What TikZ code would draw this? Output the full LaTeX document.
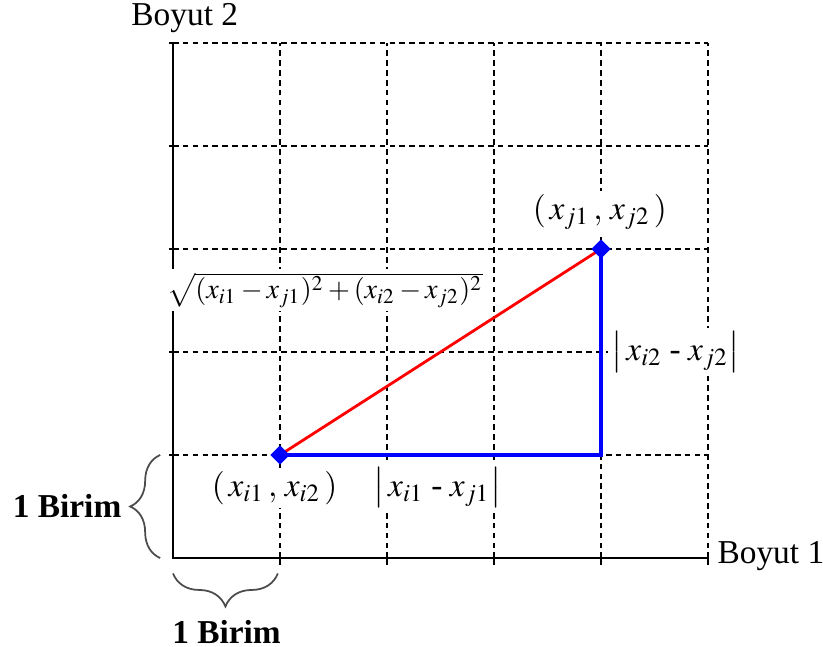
\documentclass[tikz,border=0pt]{standalone}
\usepackage{mathptmx}
\usepackage{fontspec}
\setmainfont{Liberation Serif}
\usetikzlibrary{positioning, shapes.geometric, decorations.pathreplacing}

\begin{document}
\begin{tikzpicture}[
  x=1.07cm, y=1.03cm,
  axis/.style={draw=black, line width=0.6pt},
  gridline/.style={draw=black, line width=0.5pt, dash pattern=on 1.6pt off 1.2pt},
  side/.style={draw=blue, line width=1.3pt},
  dist/.style={draw=red, line width=0.8pt},
  pt/.style={diamond, fill=blue, inner sep=0pt, minimum size=0.2cm},
  lab/.style={font=\fontsize{9.5}{11}\selectfont, fill=white, inner sep=1pt},
  birim/.style={font=\fontsize{9.5}{11}\selectfont\bfseries, inner sep=1pt},
  brc/.style={draw=black!70, line width=0.5pt, decorate, decoration={brace, amplitude=#1}},
]
  \useasboundingbox (-1.73cm,-0.88cm) rectangle (6.50cm,5.58cm);
  % Grid
  \foreach \k in {1,...,5} {
    \draw[gridline] (\k,0) -- (\k,5);
    \draw[gridline] (0,\k) -- (5,\k);
    \draw[axis] (\k,0) -- (\k,-0.07);
    \draw[axis] (0,\k) -- (-0.04,\k);
  }
  % Axes
  \coordinate (O) at (0,0);
  \coordinate (X) at (5,0);
  \coordinate (Y) at (0,5);
  \draw[axis] (Y) -- (O) -- (X);
  \node[lab, fill=none, anchor=west] (b1) at (5.05,0.02) {Boyut 1};
  \node[lab] (b2) at (0.11,5.24) {Boyut 2};
  % Points
  \coordinate (Ci) at (1,1);
  \coordinate (Cc) at (4,1);
  \coordinate (Cj) at (4,3);
  \draw[side] (Ci) -- (Cc) -- (Cj);
  \draw[dist] (Ci) -- (Cj);
  \node[pt] (Pi) at (Ci) {};
  \node[pt] (Pj) at (Cj) {};
  % Labels
  \node[lab] (li) at (0.95,0.68) {$(\,x_{i1}\,,\,x_{i2}\,)$};
  \node[lab] (lj) at (3.99,3.36) {$(\,x_{j1}\,,\,x_{j2}\,)$};
  \node[lab] (dx) at (2.47,0.68) {$\big|\,x_{i1}\;\mbox{-}\;x_{j1}\big|$};
  \node[lab, anchor=west] (dy) at (4.06,2.0) {$\big|\,x_{i2}\;\mbox{-}\;x_{j2}\big|$};
  \node[lab, font=\fontsize{8}{10}\selectfont] (eu) at (1.42,2.60)
    {$\sqrt{(x_{i1}-x_{j1})^2+(x_{i2}-x_{j2})^2}$};
  % Unit braces
  \coordinate (L0) at (-0.12,0);
  \coordinate (L1) at (-0.12,1);
  \draw[brc=0.3cm] (L0) -- (L1);
  \coordinate (B0) at (0,-0.15);
  \coordinate (B1) at (0.98,-0.15);
  \draw[brc=0.33cm] (B1) -- (B0);
  \node[birim] (ul) at (-0.99,0.51) {1 Birim};
  \node[birim] (ub) at (0.50,-0.72) {1 Birim};
\end{tikzpicture}
\end{document}
